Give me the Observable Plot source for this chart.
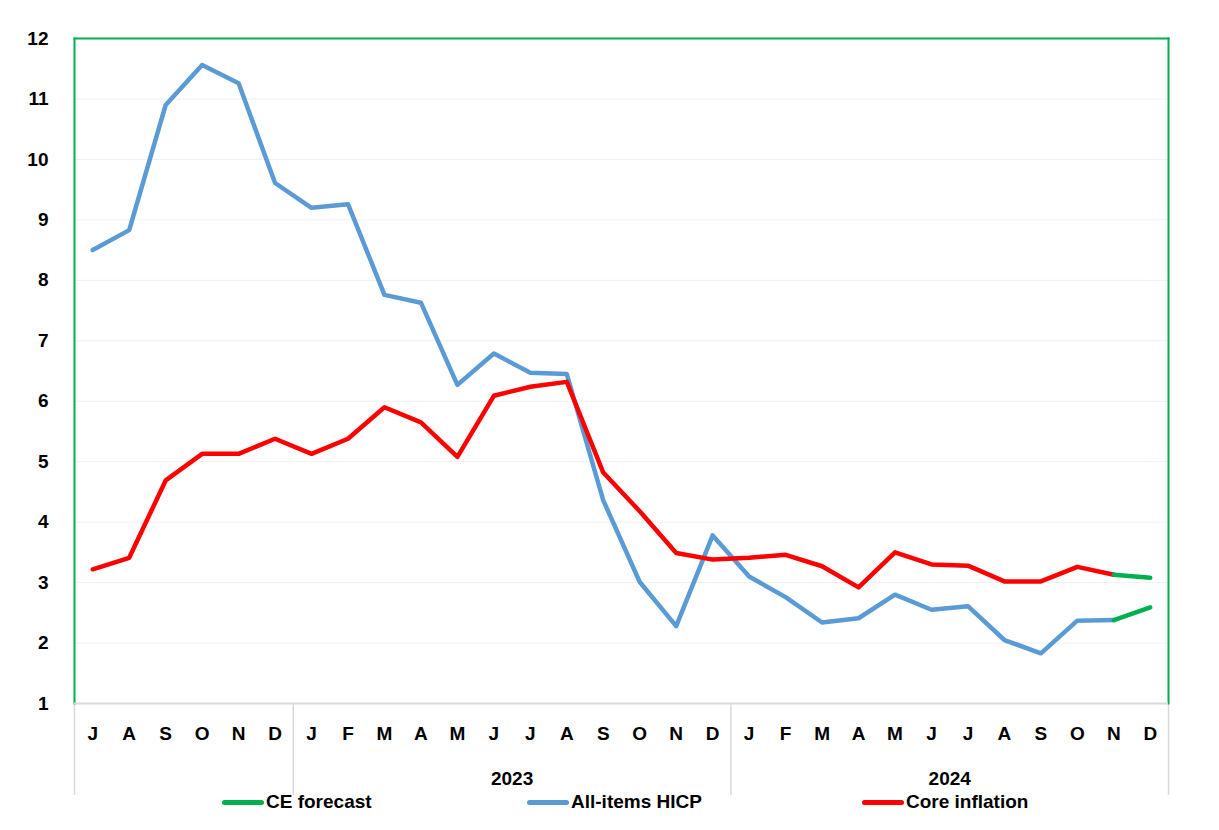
<!DOCTYPE html>
<html>
<head>
<meta charset="utf-8">
<script src="https://cdn.jsdelivr.net/npm/d3@7"></script>
<script src="https://cdn.jsdelivr.net/npm/@observablehq/plot@0.6"></script>
<style>
  body { margin: 0; background: #fff; font-family: "Liberation Sans", sans-serif; }
  #chart svg { display: block; }
  .legend { position: relative; height: 40px; width: 1219px; font-weight: bold; font-size: 19px; color: #000; }
  .item { position: absolute; top: 0; display: flex; align-items: center; height: 24px; }
  .sw { width: 42px; height: 5px; border-radius: 3px; margin-right: 2px; }
</style>
</head>
<body>
<div id="chart"></div>
<div class="legend" id="legend"></div>
<script>
const months = ["J","A","S","O","N","D","J","F","M","A","M","J","J","A","S","O","N","D","J","F","M","A","M","J","J","A","S","O","N","D"];
const years = [2022,2022,2022,2022,2022,2022,2023,2023,2023,2023,2023,2023,2023,2023,2023,2023,2023,2023,2024,2024,2024,2024,2024,2024,2024,2024,2024,2024,2024,2024];
const yearLabels = ["", "2023", "2024"];
const hicp = [8.5, 8.83, 10.9, 11.56, 11.26, 9.61, 9.2, 9.26, 7.76, 7.63, 6.27, 6.79, 6.47, 6.45, 4.36, 3.01, 2.28, 3.78, 3.1, 2.76, 2.34, 2.41, 2.8, 2.55, 2.61, 2.05, 1.83, 2.37, 2.38];
const core = [3.22, 3.41, 4.69, 5.13, 5.13, 5.38, 5.13, 5.38, 5.9, 5.65, 5.08, 6.09, 6.24, 6.32, 4.82, 4.18, 3.49, 3.38, 3.41, 3.46, 3.27, 2.92, 3.5, 3.3, 3.28, 3.02, 3.02, 3.26, 3.13];
const forecastStart = 28;
const hicpForecast = [2.38, 2.59];
const coreForecast = [3.13, 3.08];
const yTicks = [1,2,3,4,5,6,7,8,9,10,11,12];

const series = [
  {name: "CE forecast", color: "#00b050"},
  {name: "All-items HICP", color: "#5b9bd5"},
  {name: "Core inflation", color: "#ff0000"}
];

const hicpData = hicp.map((v, i) => ({i, v}));
const coreData = core.map((v, i) => ({i, v}));
const hicpF = hicpForecast.map((v, k) => ({i: forecastStart + k, v}));
const coreF = coreForecast.map((v, k) => ({i: forecastStart + k, v}));
const monthData = months.map((m, i) => ({i, m}));

// year groups
const groups = [];
years.forEach((y, i) => {
  if (!groups.length || groups[groups.length - 1].year !== y) groups.push({year: y, start: i, end: i});
  else groups[groups.length - 1].end = i;
});
groups.forEach((g, k) => g.label = yearLabels[k]);
const bounds = [groups[0].start - 0.5, ...groups.map(g => g.end + 0.5)];

const H = 790, mTop = 38, mBottom = 87;
const pxPerUnit = (H - mTop - mBottom) / (12 - 1);
const sepBottom = 1 - 92 / pxPerUnit;

const font = "'Liberation Sans', sans-serif";

const chart = Plot.plot({
  width: 1219,
  height: H,
  marginLeft: 74,
  marginRight: 51,
  marginTop: mTop,
  marginBottom: mBottom,
  style: {fontFamily: font, fontSize: "19px", fontWeight: "bold", color: "#000", background: "#fff", overflow: "visible"},
  x: {type: "linear", domain: [-0.5, months.length - 0.5], axis: null},
  y: {domain: [1, 12], ticks: yTicks, tickSize: 0, tickPadding: 26, tickFormat: d => d, label: null},
  marks: [
    Plot.ruleY(yTicks.filter(t => t > 1 && t < 12), {stroke: "#f0f0f0", strokeWidth: 1}),
    Plot.ruleX(bounds, {y1: 1, y2: sepBottom, stroke: "#d9d9d9", strokeWidth: 1.5, clip: false}),
    Plot.frame({anchor: "top", stroke: "#00b050", strokeWidth: 2}),
    Plot.frame({anchor: "left", stroke: "#00b050", strokeWidth: 2}),
    Plot.frame({anchor: "right", stroke: "#00b050", strokeWidth: 2}),
    Plot.ruleY([1], {stroke: "#d9d9d9", strokeWidth: 2}),
    Plot.line(hicpData, {x: "i", y: "v", stroke: "#5b9bd5", strokeWidth: 4.5}),
    Plot.line(coreData, {x: "i", y: "v", stroke: "#ff0000", strokeWidth: 4.5}),
    Plot.line(hicpF, {x: "i", y: "v", stroke: "#00b050", strokeWidth: 4.5}),
    Plot.line(coreF, {x: "i", y: "v", stroke: "#00b050", strokeWidth: 4.5}),
    Plot.text(monthData, {x: "i", y: () => 1, text: "m", dy: 30, fontSize: 19, fontWeight: "bold", fill: "#000"}),
    Plot.text(groups.filter(g => g.label), {x: g => (g.start + g.end) / 2, y: () => 1, text: "label", dy: 75, fontSize: 19, fontWeight: "bold", fill: "#000"})
  ]
});
document.getElementById("chart").appendChild(chart);

const legend = document.getElementById("legend");
const lefts = [222, 527, 862];
series.forEach((s, k) => {
  const it = document.createElement("div");
  it.className = "item";
  it.style.left = lefts[k] + "px";
  it.innerHTML = `<div class="sw" style="background:${s.color}"></div><span>${s.name}</span>`;
  legend.appendChild(it);
});
</script>
</body>
</html>
